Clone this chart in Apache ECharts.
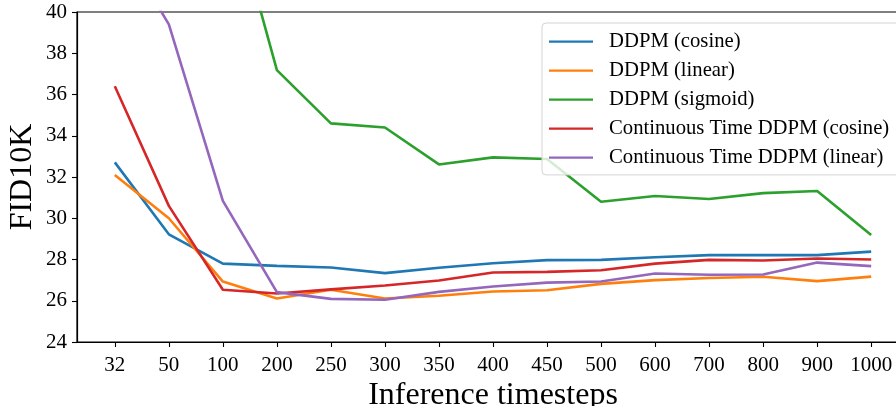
<!DOCTYPE html>
<html>
<head>
<meta charset="utf-8">
<script src="https://cdn.jsdelivr.net/npm/echarts@6/dist/echarts.min.js"></script>
<style>
html,body{margin:0;padding:0;background:#fff;}
#chart{width:896px;height:406px;}
</style>
</head>
<body>
<div id="chart"></div>
<script>
const categories = ['32','50','100','200','250','300','350','400','450','500','600','700','800','900','1000'];
const ddpmCosine  = [32.71, 29.22, 27.80, 27.69, 27.61, 27.34, 27.60, 27.82, 27.97, 27.98, 28.11, 28.21, 28.21, 28.21, 28.38];
const ddpmLinear  = [32.10, 30.00, 26.93, 26.11, 26.53, 26.11, 26.24, 26.45, 26.51, 26.82, 27.00, 27.10, 27.16, 26.95, 27.17];
const ddpmSigmoid = [58.0, 52.0, 46.7, 37.18, 34.60, 34.40, 32.61, 32.95, 32.87, 30.80, 31.08, 30.93, 31.22, 31.32, 29.19];
const ctCosine    = [36.40, 30.60, 26.53, 26.35, 26.55, 26.74, 26.98, 27.37, 27.40, 27.48, 27.80, 27.98, 27.95, 28.05, 28.00];
const ctLinear    = [43.8, 39.40, 30.84, 26.42, 26.09, 26.05, 26.43, 26.69, 26.88, 26.93, 27.32, 27.26, 27.27, 27.85, 27.68];
const yTicks = [24, 26, 28, 30, 32, 34, 36, 38, 40];

const seriesDefs = [
  ['DDPM (cosine)', ddpmCosine, '#1f77b4'],
  ['DDPM (linear)', ddpmLinear, '#ff7f0e'],
  ['DDPM (sigmoid)', ddpmSigmoid, '#2ca02c'],
  ['Continuous Time DDPM (cosine)', ctCosine, '#d62728'],
  ['Continuous Time DDPM (linear)', ctLinear, '#9467bd']
];
const idx = categories.map((_, i) => i);
const FONT = '"Liberation Serif", "Times New Roman", serif';

const chart = echarts.init(document.getElementById('chart'), null, {renderer: 'canvas'});
chart.setOption({
  animation: false,
  backgroundColor: '#fff',
  grid: {left: 77, top: 12, width: 832, height: 330, containLabel: false, outerBoundsMode: 'none',
         show: true, borderColor: '#000', borderWidth: 1.2, backgroundColor: 'transparent'},
  xAxis: {
    type: 'value', min: -0.7, max: 14.7,
    name: 'Inference timesteps', nameLocation: 'middle', nameGap: 38, nameMoveOverlap: false,
    nameTextStyle: {fontFamily: FONT, fontSize: 32, color: '#000'},
    axisLine: {show: true, onZero: false, lineStyle: {color: '#000', width: 1.2}},
    axisTick: {show: true, inside: false, length: 5, customValues: idx, lineStyle: {color: '#000', width: 1.1}},
    axisLabel: {customValues: idx, formatter: v => categories[Math.round(v)], fontFamily: FONT, fontSize: 21, color: '#000', margin: 13},
    splitLine: {show: false}
  },
  yAxis: {
    type: 'value', min: yTicks[0], max: yTicks[yTicks.length - 1], interval: 2,
    name: 'FID10K', nameLocation: 'middle', nameGap: 38, nameRotate: 90, nameMoveOverlap: false,
    nameTextStyle: {fontFamily: FONT, fontSize: 32, color: '#000'},
    axisLine: {show: true, onZero: false, lineStyle: {color: '#000', width: 1.2}},
    axisTick: {show: true, inside: false, length: 5, lineStyle: {color: '#000', width: 1.1}},
    axisLabel: {fontFamily: FONT, fontSize: 21, color: '#000', margin: 10},
    splitLine: {show: false}
  },
  legend: {
    orient: 'vertical', left: 542, top: 23, right: -60,
    icon: 'rect', itemWidth: 44, itemHeight: 2.4, itemGap: 7,
    padding: [7.6, 22, 6.3, 7],
    backgroundColor: 'rgba(255,255,255,0.8)',
    borderColor: '#d4d4d4', borderWidth: 1, borderRadius: 4,
    textStyle: {fontFamily: FONT, fontSize: 20.7, color: '#000', lineHeight: 22, padding: [0, 0, 0, 11]},
    data: seriesDefs.map(d => d[0])
  },
  series: seriesDefs.map(([name, vals, color]) => ({
    name, type: 'line', symbol: 'none', clip: true,
    data: vals.map((v, i) => [i, v]),
    lineStyle: {color, width: 2.6},
    itemStyle: {color}
  }))
});
</script>
</body>
</html>
